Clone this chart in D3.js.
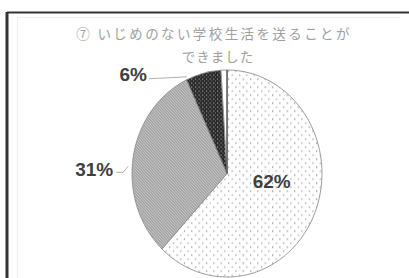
<!DOCTYPE html>
<html><head><meta charset="utf-8">
<script src="https://cdn.jsdelivr.net/npm/d3@7"></script>
<style>html,body{margin:0;padding:0;background:#fff;overflow:hidden}</style>
</head><body>
<svg id="c" width="409" height="278"></svg>
<script>
const titleLines = ["⑦ いじめのない学校生活を送ることが", "できました"];
const categories = ["はい", "どちらかといえばはい", "どちらかといえばいいえ", "いいえ"];
const values = [62, 31, 6, 1];
const labels = ["62%", "31%", "6%", ""];
const patterns = ["dots", "hatch", "darkdots", "blank"];

const svg = d3.select("#c");
const defs = svg.append("defs");

const p1 = defs.append("pattern").attr("id","dots").attr("patternUnits","userSpaceOnUse").attr("width",8).attr("height",8);
p1.append("rect").attr("width",8).attr("height",8).attr("fill","#fff");
p1.append("rect").attr("x",1).attr("y",1).attr("width",1.3).attr("height",1.3).attr("fill","#8a8a8a");
p1.append("rect").attr("x",5).attr("y",5).attr("width",1.3).attr("height",1.3).attr("fill","#9a9a9a");

const p2 = defs.append("pattern").attr("id","hatch").attr("patternUnits","userSpaceOnUse").attr("width",3).attr("height",3);
p2.append("rect").attr("width",3).attr("height",3).attr("fill","#c8c8c8");
p2.append("path").attr("d","M0,0 L3,3 M-1,2 L1,4 M2,-1 L4,1").attr("stroke","#747474").attr("stroke-width",0.85);

const p3 = defs.append("pattern").attr("id","darkdots").attr("patternUnits","userSpaceOnUse").attr("width",4).attr("height",4);
p3.append("rect").attr("width",4).attr("height",4).attr("fill","#262626");
p3.append("rect").attr("x",1).attr("y",1).attr("width",1.2).attr("height",1.2).attr("fill","#bdbdbd");
p3.append("rect").attr("x",3).attr("y",3).attr("width",1).attr("height",1).attr("fill","#8d8d8d");

// frame
svg.append("line").attr("x1",7).attr("y1",12.5).attr("x2",409).attr("y2",12.5).attr("stroke","#333").attr("stroke-width",2);
svg.append("line").attr("x1",7).attr("y1",12).attr("x2",7).attr("y2",278).attr("stroke","#333").attr("stroke-width",3);
svg.append("line").attr("x1",18).attr("y1",17.5).attr("x2",400).attr("y2",17.5).attr("stroke","#f0f0f0").attr("stroke-width",1);
svg.append("line").attr("x1",17.5).attr("y1",17).attr("x2",17.5).attr("y2",278).attr("stroke","#f0f0f0").attr("stroke-width",1);

// title
svg.append("text").attr("x",214).attr("y",39).attr("text-anchor","middle")
  .attr("font-family","Noto Sans CJK JP").attr("font-size",13.5).attr("letter-spacing",2.4)
  .attr("fill","#a0a0a0").text(titleLines[0]);
svg.append("text").attr("x",218).attr("y",62).attr("text-anchor","middle")
  .attr("font-family","Noto Sans CJK JP").attr("font-size",13.5).attr("letter-spacing",1)
  .attr("fill","#a0a0a0").text(titleLines[1]);

// pie
const cx = 227, cy = 173.5, ry = 103.5, rx = 95;
const pie = d3.pie().sort(null).value(d => d)(values);
const arc = d3.arc().innerRadius(0).outerRadius(ry);
const g = svg.append("g").attr("transform", `translate(${cx},${cy}) scale(${rx/ry},1)`);
g.selectAll("path.slice").data(pie).join("path").attr("class","slice")
  .attr("d", arc)
  .attr("fill", (d,i) => patterns[i] === "blank" ? "#fff" : `url(#${patterns[i]})`)
  .attr("stroke", "#8c8c8c").attr("stroke-width", 0.9);
g.append("line").attr("x1",0).attr("y1",0).attr("x2",0).attr("y2",-ry).attr("stroke","#444").attr("stroke-width",1.2);

const sx = rx/ry;
function pt(angle, r){ return [cx + Math.sin(angle)*r*sx, cy - Math.cos(angle)*r]; }
function lab(x, y, t, anchor){
  svg.append("text").attr("x",x).attr("y",y).attr("text-anchor",anchor)
    .attr("font-family","Liberation Sans").attr("font-weight","bold").attr("font-size",19)
    .attr("fill","#404040").text(t);
}
// 62% inside
{
  const d = pie[0]; const a = (d.startAngle + d.endAngle)/2;
  const [x,y] = pt(a, 50);
  lab(x + 2, y - 4, labels[0], "middle");
}
// 31% outside left, short elbow leader
{
  const d = pie[1]; const a = (d.startAngle + d.endAngle)/2;
  const [ex,ey] = pt(a, ry);
  const lx = ex - 6, ly = ey + 12;
  svg.append("path").attr("d", `M${lx+1},${ly-3} L${lx-4},${ly+3} L${lx-11},${ly+3}`)
    .attr("fill","none").attr("stroke","#9a9a9a").attr("stroke-width",0.8);
  lab(lx - 14, ly + 7, labels[1], "end");
}
// 6% outside top-left with leader
{
  const d = pie[2];
  const [ex,ey] = pt(d.startAngle, ry * 0.99);
  svg.append("path").attr("d", `M${ex},${ey-4} L${ex-38},${ey-2}`)
    .attr("fill","none").attr("stroke","#9a9a9a").attr("stroke-width",0.8);
  lab(ex - 40, ey, labels[2], "end");
}
</script>
</body></html>
